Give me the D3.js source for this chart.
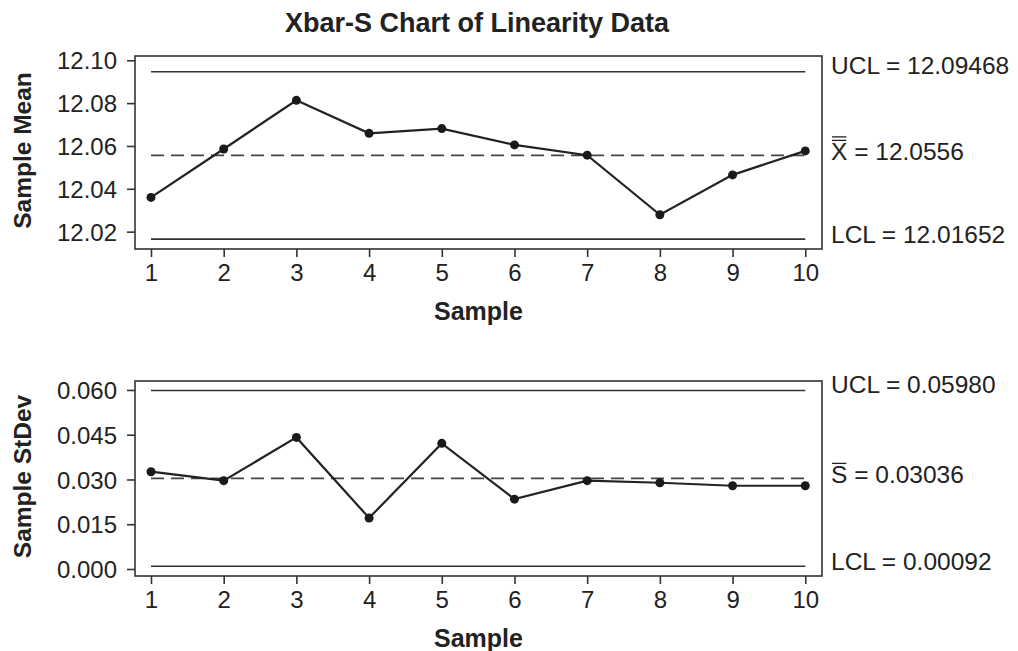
<!DOCTYPE html>
<html>
<head>
<meta charset="utf-8">
<script src="https://d3js.org/d3.v7.min.js"></script>
<style>
  body { margin: 0; background: #fff; }
  text { font-family: "Liberation Sans", Arial, Helvetica, sans-serif; fill: #222; }
</style>
</head>
<body>
<div id="chart"></div>
<script>
// data
var samples = [1, 2, 3, 4, 5, 6, 7, 8, 9, 10];
var sampleMeans = [12.0360, 12.0586, 12.0813, 12.0659, 12.0681, 12.0605, 12.0557, 12.0279, 12.0465, 12.0577];
var sampleStDevs = [0.0326, 0.0296, 0.0441, 0.0171, 0.0421, 0.0234, 0.0296, 0.0289, 0.0279, 0.0279];

var meanLimits = { ucl: 12.09468, center: 12.0556, lcl: 12.01652 };
var sdLimits = { ucl: 0.05980, center: 0.03036, lcl: 0.00092 };

var meanTicks = [12.02, 12.04, 12.06, 12.08, 12.10];
var sdTicks = [0, 0.015, 0.030, 0.045, 0.060];

var W = 1018, H = 651;
var svg = d3.select("#chart").append("svg")
  .attr("width", W)
  .attr("height", H);

// title
svg.append("text")
  .attr("x", 477)
  .attr("y", 32)
  .attr("text-anchor", "middle")
  .attr("font-size", 27)
  .attr("font-weight", "bold")
  .text("Xbar-S Chart of Linearity Data");

var x = d3.scaleLinear()
  .domain([0.78, 10.23])
  .range([135, 822]);

function drawPanel(opt) {
  var y = d3.scaleLinear()
    .domain(opt.domain)
    .range([opt.bottom, opt.top]);

  var g = svg.append("g");

  // frame
  g.append("rect")
    .attr("x", x.range()[0])
    .attr("y", opt.top)
    .attr("width", x.range()[1] - x.range()[0])
    .attr("height", opt.bottom - opt.top)
    .attr("fill", "none")
    .attr("stroke", "#333")
    .attr("stroke-width", 1.6);

  // y axis
  var ya = g.append("g")
    .attr("transform", "translate(" + x.range()[0] + ",0)")
    .call(d3.axisLeft(y).tickValues(opt.ticks).tickFormat(opt.fmt).tickSize(8).tickPadding(10));
  ya.select(".domain").remove();
  ya.selectAll("line").attr("stroke", "#333").attr("stroke-width", 1.6);
  ya.selectAll("text").attr("font-size", 24).attr("font-family", null).attr("fill", "#222").attr("dy", "0.36em");

  // x axis
  var xa = g.append("g")
    .attr("transform", "translate(0," + opt.bottom + ")")
    .call(d3.axisBottom(x).tickValues(samples).tickFormat(d3.format("d")).tickSize(8).tickPadding(7));
  xa.select(".domain").remove();
  xa.selectAll("line").attr("stroke", "#333").attr("stroke-width", 1.6);
  xa.selectAll("text").attr("font-size", 24).attr("font-family", null).attr("fill", "#222");

  // control limits
  var x0 = x(samples[0]), x1 = x(samples[samples.length - 1]);
  [opt.limits.ucl, opt.limits.lcl].forEach(function(v) {
    g.append("line")
      .attr("x1", x0).attr("x2", x1)
      .attr("y1", y(v)).attr("y2", y(v))
      .attr("stroke", "#333").attr("stroke-width", 1.6);
  });
  g.append("line")
    .attr("x1", x0).attr("x2", x1)
    .attr("y1", y(opt.limits.center)).attr("y2", y(opt.limits.center))
    .attr("stroke", "#444").attr("stroke-width", 1.6)
    .attr("stroke-dasharray", "13,7");

  // data line + points
  var pts = samples.map(function(s, i) { return [s, opt.values[i]]; });
  g.append("path")
    .datum(pts)
    .attr("fill", "none")
    .attr("stroke", "#222")
    .attr("stroke-width", 2.2)
    .attr("d", d3.line()
      .x(function(d) { return x(d[0]); })
      .y(function(d) { return y(d[1]); }));
  g.selectAll("circle")
    .data(pts)
    .enter().append("circle")
      .attr("cx", function(d) { return x(d[0]); })
      .attr("cy", function(d) { return y(d[1]); })
      .attr("r", 4.5)
      .attr("fill", "#1a1a1a");

  // axis titles
  g.append("text")
    .attr("transform", "translate(31," + ((opt.top + opt.bottom) / 2 - 2) + ") rotate(-90)")
    .attr("text-anchor", "middle")
    .attr("font-size", 24.5)
    .attr("font-weight", "bold")
    .text(opt.ylabel);
  g.append("text")
    .attr("x", (x.range()[0] + x.range()[1]) / 2)
    .attr("y", opt.bottom + 71)
    .attr("text-anchor", "middle")
    .attr("font-size", 25)
    .attr("font-weight", "bold")
    .text("Sample");

  // right-side labels
  var lx = 831;
  var fs = 24.5;
  g.append("text")
    .attr("x", lx).attr("y", y(opt.limits.ucl) + 2)
    .attr("font-size", fs)
    .text("UCL = " + opt.uclText);
  var ct = g.append("text")
    .attr("x", lx).attr("y", y(opt.limits.center) + 5)
    .attr("font-size", fs);
  var sym = ct.append("tspan").text(opt.symbol);
  ct.append("tspan").text(" = " + opt.centerText);
  g.append("text")
    .attr("x", lx).attr("y", y(opt.limits.lcl) + 4)
    .attr("font-size", fs)
    .text("LCL = " + opt.lclText);

  // bars over the centre symbol
  var sw = sym.node().getComputedTextLength();
  var by = y(opt.limits.center) + 5 - 20;
  for (var k = 0; k < opt.bars; k++) {
    g.append("line")
      .attr("x1", lx + 1).attr("x2", lx + sw - 1)
      .attr("y1", by - k * 3.5).attr("y2", by - k * 3.5)
      .attr("stroke", "#222").attr("stroke-width", 1.3);
  }
}

drawPanel({
  top: 56, bottom: 249,
  domain: [12.0119, 12.102],
  ticks: meanTicks, fmt: d3.format(".2f"),
  values: sampleMeans, limits: meanLimits,
  ylabel: "Sample Mean",
  uclText: "12.09468", centerText: "12.0556", lclText: "12.01652",
  symbol: "X", bars: 2
});

drawPanel({
  top: 381, bottom: 576,
  domain: [-0.00235, 0.063],
  ticks: sdTicks, fmt: d3.format(".3f"),
  values: sampleStDevs, limits: sdLimits,
  ylabel: "Sample StDev",
  uclText: "0.05980", centerText: "0.03036", lclText: "0.00092",
  symbol: "S", bars: 1
});
</script>
</body>
</html>
